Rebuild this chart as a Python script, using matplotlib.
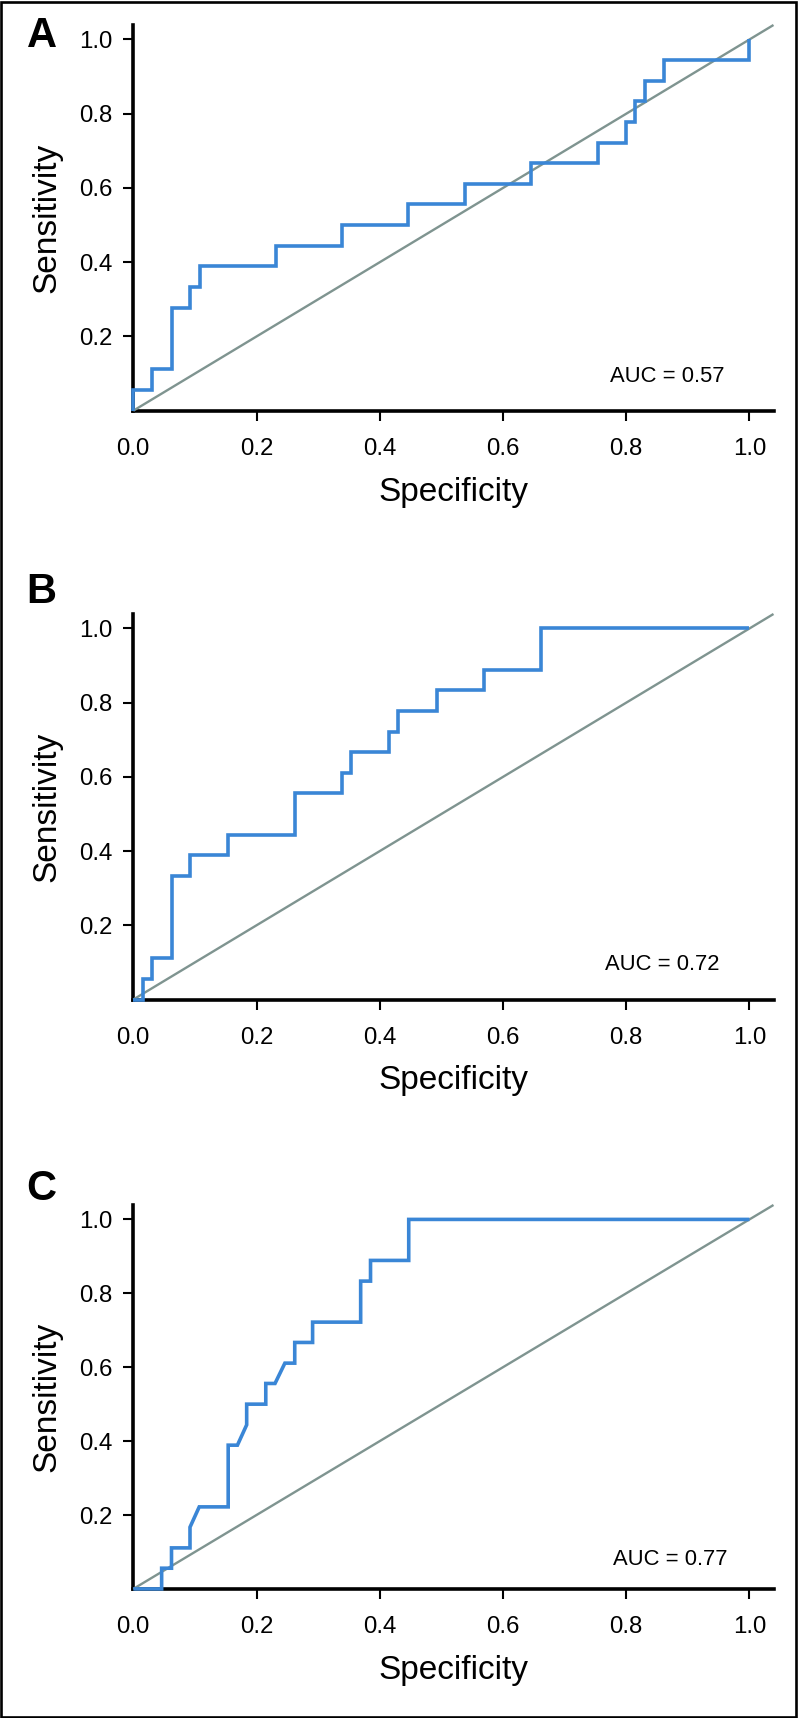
import matplotlib
matplotlib.use("Agg")
import matplotlib.pyplot as plt
from matplotlib.patches import Rectangle

plt.rcParams['font.family'] = ['Liberation Sans', 'DejaVu Sans']

# ---- data (1 - specificity on x, sensitivity on y), ROC polyline vertices ----
panel_labels = ["A", "B", "C"]
auc_texts = ["AUC = 0.57", "AUC = 0.72", "AUC = 0.77"]

roc_a_x = [0, 0, 0.031, 0.031, 0.062, 0.062, 0.092, 0.092, 0.108, 0.108, 0.231, 0.231,
           0.338, 0.338, 0.446, 0.446, 0.538, 0.538, 0.646, 0.646, 0.754, 0.754,
           0.800, 0.800, 0.815, 0.815, 0.831, 0.831, 0.862, 0.862, 1.0, 1.0]
roc_a_y = [0, 0.056, 0.056, 0.111, 0.111, 0.278, 0.278, 0.333, 0.333, 0.389, 0.389, 0.444,
           0.444, 0.500, 0.500, 0.556, 0.556, 0.611, 0.611, 0.667, 0.667, 0.722,
           0.722, 0.778, 0.778, 0.833, 0.833, 0.889, 0.889, 0.944, 0.944, 1.0]

roc_b_x = [0, 0.016, 0.016, 0.031, 0.031, 0.062, 0.062, 0.092, 0.092, 0.154, 0.154,
           0.262, 0.262, 0.338, 0.338, 0.353, 0.353, 0.415, 0.415, 0.430, 0.430,
           0.493, 0.493, 0.569, 0.569, 0.661, 0.661, 1.0]
roc_b_y = [0, 0, 0.056, 0.056, 0.111, 0.111, 0.333, 0.333, 0.389, 0.389, 0.444,
           0.444, 0.556, 0.556, 0.611, 0.611, 0.667, 0.667, 0.722, 0.722, 0.778,
           0.778, 0.833, 0.833, 0.889, 0.889, 1.0, 1.0]

roc_c_x = [0, 0.046, 0.046, 0.062, 0.062, 0.092, 0.092, 0.107, 0.154, 0.154, 0.169,
           0.184, 0.184, 0.215, 0.215, 0.230, 0.246, 0.262, 0.262, 0.291, 0.291,
           0.369, 0.369, 0.385, 0.385, 0.447, 0.447, 1.0]
roc_c_y = [0, 0, 0.056, 0.056, 0.111, 0.111, 0.167, 0.222, 0.222, 0.389, 0.389,
           0.444, 0.500, 0.500, 0.556, 0.556, 0.611, 0.611, 0.667, 0.667, 0.722,
           0.722, 0.833, 0.833, 0.889, 0.889, 1.0, 1.0]

roc_x = [roc_a_x, roc_b_x, roc_c_x]
roc_y = [roc_a_y, roc_b_y, roc_c_y]
auc_pos = [(0.773, 0.078), (0.766, 0.080), (0.778, 0.066)]

tick_vals = [0.0, 0.2, 0.4, 0.6, 0.8, 1.0]
tick_labels = ["0.0", "0.2", "0.4", "0.6", "0.8", "1.0"]
ytick_vals = [0.2, 0.4, 0.6, 0.8, 1.0]
ytick_labels = ["0.2", "0.4", "0.6", "0.8", "1.0"]

# ---- layout ----
W, H = 798, 1718
fig = plt.figure(figsize=(W / 100, H / 100), dpi=100)

left_px, right_px = 133.3, 773.5
ax_rows = [(410.7, 25.0), (999.5, 614.0), (1588.9, 1205.0)]
label_base = [47.3, 602.7, 1200.0]

blue = '#3a86d6'
gray = '#7f9490'
lim = 1.039

for i in range(3):
    y0, y1 = ax_rows[i]
    ax = fig.add_axes([left_px / W, (H - y0) / H, (right_px - left_px) / W, (y0 - y1) / H])
    ax.set_xlim(0, lim)
    ax.set_ylim(0, lim)
    for s in ['top', 'right']:
        ax.spines[s].set_visible(False)
    for s in ['left', 'bottom']:
        ax.spines[s].set_linewidth(2.6)
        ax.spines[s].set_color('black')
    ax.plot([0, lim], [0, lim], color=gray, lw=1.7, zorder=3, clip_on=False,
            solid_capstyle='butt')
    ax.plot(roc_x[i], roc_y[i], color=blue, lw=2.6, zorder=4, clip_on=False,
            solid_joinstyle='miter', solid_capstyle='butt')
    ax.set_xticks(tick_vals)
    ax.set_xticklabels(tick_labels)
    ax.set_yticks(ytick_vals)
    ax.set_yticklabels(ytick_labels)
    ax.xaxis.get_major_ticks()[0].tick1line.set_visible(False)
    ax.tick_params(axis='both', direction='out', length=7.5, width=1.5,
                   labelsize=17.3, colors='black')
    ax.tick_params(axis='x', pad=12.3)
    ax.tick_params(axis='y', pad=7.6)
    ax.set_xlabel("Specificity", fontsize=24)
    ax.set_ylabel("Sensitivity", fontsize=24)
    ax.xaxis.set_label_coords(0.5, -0.171)
    ax.yaxis.set_label_coords(-0.111, 0.5)
    ax.text(auc_pos[i][0], auc_pos[i][1], auc_texts[i], fontsize=15.8,
            ha='left', va='baseline', transform=ax.transData)
    fig.text(26.7 / W, (H - label_base[i]) / H, panel_labels[i], fontsize=30,
             fontweight='bold', ha='left', va='baseline')

fig.patches.append(Rectangle((1.3 / W, 1.5 / H), (795.5 - 1.3) / W, (H - 3.0) / H,
                             transform=fig.transFigure, fill=False,
                             edgecolor='black', lw=1.9))

fig.savefig("out.png", dpi=100)
